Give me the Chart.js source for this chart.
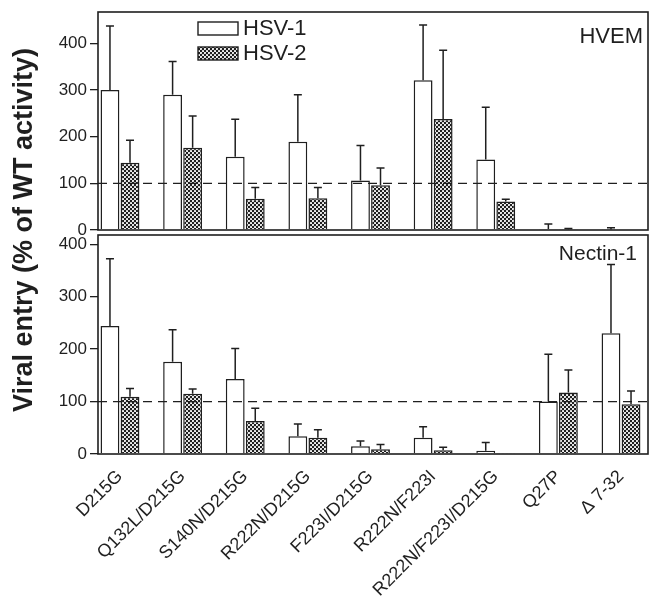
<!DOCTYPE html>
<html>
<head>
<meta charset="utf-8">
<script src="https://cdn.jsdelivr.net/npm/chart.js@4.4.1/dist/chart.umd.min.js"></script>
<style>
  html, body { margin: 0; padding: 0; background: #fff; }
  #wrap { position: relative; width: 654px; height: 597px; }
</style>
</head>
<body>
<div id="wrap"><canvas id="chart" width="654" height="597"></canvas></div>
<script>
const categories = ['D215G', 'Q132L/D215G', 'S140N/D215G', 'R222N/D215G', 'F223I/D215G',
  'R222N/F223I', 'R222N/F223I/D215G', 'Q27P', '\u0394 7-32'];

// HVEM panel (top)
const hvemHsv1 = [300, 290, 157, 189, 106, 321, 151, 2, 1];
const hvemHsv1Err = [437, 361, 237, 290, 181, 439, 263, 13, 5];
const hvemHsv2 = [144, 176, 67, 68, 96, 238, 61, 1, 0];
const hvemHsv2Err = [192, 244, 91, 91, 133, 385, 66, 3, 1];

// Nectin-1 panel (bottom)
const nectinHsv1 = [244, 176, 143, 34, 15, 31, 6, 100, 230];
const nectinHsv1Err = [372, 237, 201, 57, 25, 52, 22, 190, 361];
const nectinHsv2 = [109, 115, 63, 31, 9, 7, 1, 117, 95];
const nectinHsv2Err = [125, 124, 87, 46, 18, 13, 1, 160, 120];

const yTicks = [0, 100, 200, 300, 400];
const seriesNames = ['HSV-1', 'HSV-2'];
const panelNames = ['HVEM', 'Nectin-1'];
const yTitle = 'Viral entry (% of WT activity)';

const ink = '#1f1f1f';
const font = '"Liberation Sans", Arial, sans-serif';

const canvas = document.getElementById('chart');
const ctx = canvas.getContext('2d');

// checkered fill for HSV-2
const tile = document.createElement('canvas');
tile.width = 4; tile.height = 4;
const tctx = tile.getContext('2d');
tctx.fillStyle = ink;
tctx.fillRect(0, 0, 4, 4);
tctx.fillStyle = '#fff';
[[1, 1], [3, 3]].forEach(([cx, cy]) => {
  tctx.beginPath();
  tctx.arc(cx, cy, 1.05, 0, Math.PI * 2);
  tctx.fill();
});
const checker = ctx.createPattern(tile, 'repeat');

function makeSet(label, axis, values, errs, stack, fill) {
  return {
    label,
    yAxisID: axis,
    stack,
    errors: errs,
    data: values.map((v, i) => ({ x: i, y: v })),
    backgroundColor: fill,
    borderColor: ink,
    borderWidth: 1.5,
    categoryPercentage: 0.64,
    barPercentage: 0.94
  };
}

const yAxis = (weight, max) => ({
  type: 'linear',
  position: 'left',
  stack: 'panels',
  stackWeight: weight,
  min: 0,
  max: max,
  stacked: false,
  border: { display: false },
  grid: { drawOnChartArea: false, tickLength: 8, color: ink, lineWidth: 1.3 },
  afterBuildTicks: s => { s.ticks = yTicks.map(v => ({ value: v })); },
  afterFit: s => { s.width = 98; s.paddingTop = 0; s.paddingBottom = 0; },
  ticks: { color: ink, font: { family: font, size: 17 }, padding: 3 }
});

const panelPlugin = {
  id: 'panels',
  afterDatasetsDraw(chart) {
    const c = chart.ctx;
    const area = chart.chartArea;
    const top = chart.scales.hvem;
    const bottom = chart.scales.nectin;
    c.save();

    // dashed 100% reference lines
    c.strokeStyle = ink;
    c.lineWidth = 1.3;
    c.setLineDash([9, 6]);
    [top, bottom].forEach(s => {
      const y = s.getPixelForValue(100);
      c.beginPath();
      c.moveTo(area.left, y);
      c.lineTo(area.right, y);
      c.stroke();
    });
    c.setLineDash([]);

    // upward error bars
    c.lineWidth = 1.5;
    chart.data.datasets.forEach((ds, di) => {
      const meta = chart.getDatasetMeta(di);
      const scale = chart.scales[ds.yAxisID];
      meta.data.forEach((bar, i) => {
        const yErr = scale.getPixelForValue(ds.errors[i]);
        if (bar.y - yErr < 0.5) return;
        c.beginPath();
        c.moveTo(bar.x, bar.y);
        c.lineTo(bar.x, yErr);
        c.moveTo(bar.x - 4, yErr);
        c.lineTo(bar.x + 4, yErr);
        c.stroke();
      });
    });

    // panel frames
    c.lineWidth = 1.6;
    c.strokeRect(area.left, top.top, area.right - area.left, top.bottom - top.top);
    c.strokeRect(area.left, bottom.top + 5, area.right - area.left, bottom.bottom - bottom.top - 5);

    // legend
    const sets = chart.data.datasets;
    [0, 1].forEach(k => {
      const y = 22 + k * 25;
      c.fillStyle = sets[k].backgroundColor;
      c.fillRect(198, y, 40, 13);
      c.lineWidth = 1.4;
      c.strokeRect(198, y, 40, 13);
      c.fillStyle = ink;
      c.font = '22px ' + font;
      c.textAlign = 'left';
      c.textBaseline = 'middle';
      c.fillText(seriesNames[k], 243, y + 7);
    });

    // panel names
    c.textAlign = 'right';
    c.textBaseline = 'alphabetic';
    c.font = '22px ' + font;
    c.fillText(panelNames[0], 643, 43);
    c.font = '21px ' + font;
    c.fillText(panelNames[1], 637, 260);

    // shared y title
    c.translate(25, 230);
    c.rotate(-Math.PI / 2);
    c.textAlign = 'center';
    c.textBaseline = 'middle';
    c.font = 'bold 27px ' + font;
    c.fillText(yTitle, 0, 0);
    c.restore();
  }
};

new Chart(canvas, {
  type: 'bar',
  data: {
    datasets: [
      makeSet(seriesNames[0], 'hvem', hvemHsv1, hvemHsv1Err, 'a', '#fff'),
      makeSet(seriesNames[1], 'hvem', hvemHsv2, hvemHsv2Err, 'b', checker),
      makeSet(seriesNames[0], 'nectin', nectinHsv1, nectinHsv1Err, 'a', '#fff'),
      makeSet(seriesNames[1], 'nectin', nectinHsv2, nectinHsv2Err, 'b', checker)
    ]
  },
  options: {
    responsive: false,
    animation: false,
    layout: { padding: { left: 0, top: 12, right: 6, bottom: 0 } },
    plugins: { legend: { display: false }, tooltip: { enabled: false } },
    scales: {
      x: {
        type: 'linear',
        min: -0.351,
        max: 8.431,
        offset: false,
        grid: { display: false, offset: false },
        border: { display: false },
        afterBuildTicks: s => { s.ticks = categories.map((c, i) => ({ value: i })); },
        afterFit: s => { s.height = 143; },
        ticks: {
          callback: v => categories[v],
          minRotation: 45,
          maxRotation: 45,
          autoSkip: false,
          color: ink,
          padding: 4,
          font: { family: font, size: 18 }
        }
      },
      // listed bottom-first: the layout stacks left axes in reverse order
      nectin: yAxis(224, 427),
      hvem: yAxis(218, 467)
    }
  },
  plugins: [panelPlugin]
});
</script>
</body>
</html>
